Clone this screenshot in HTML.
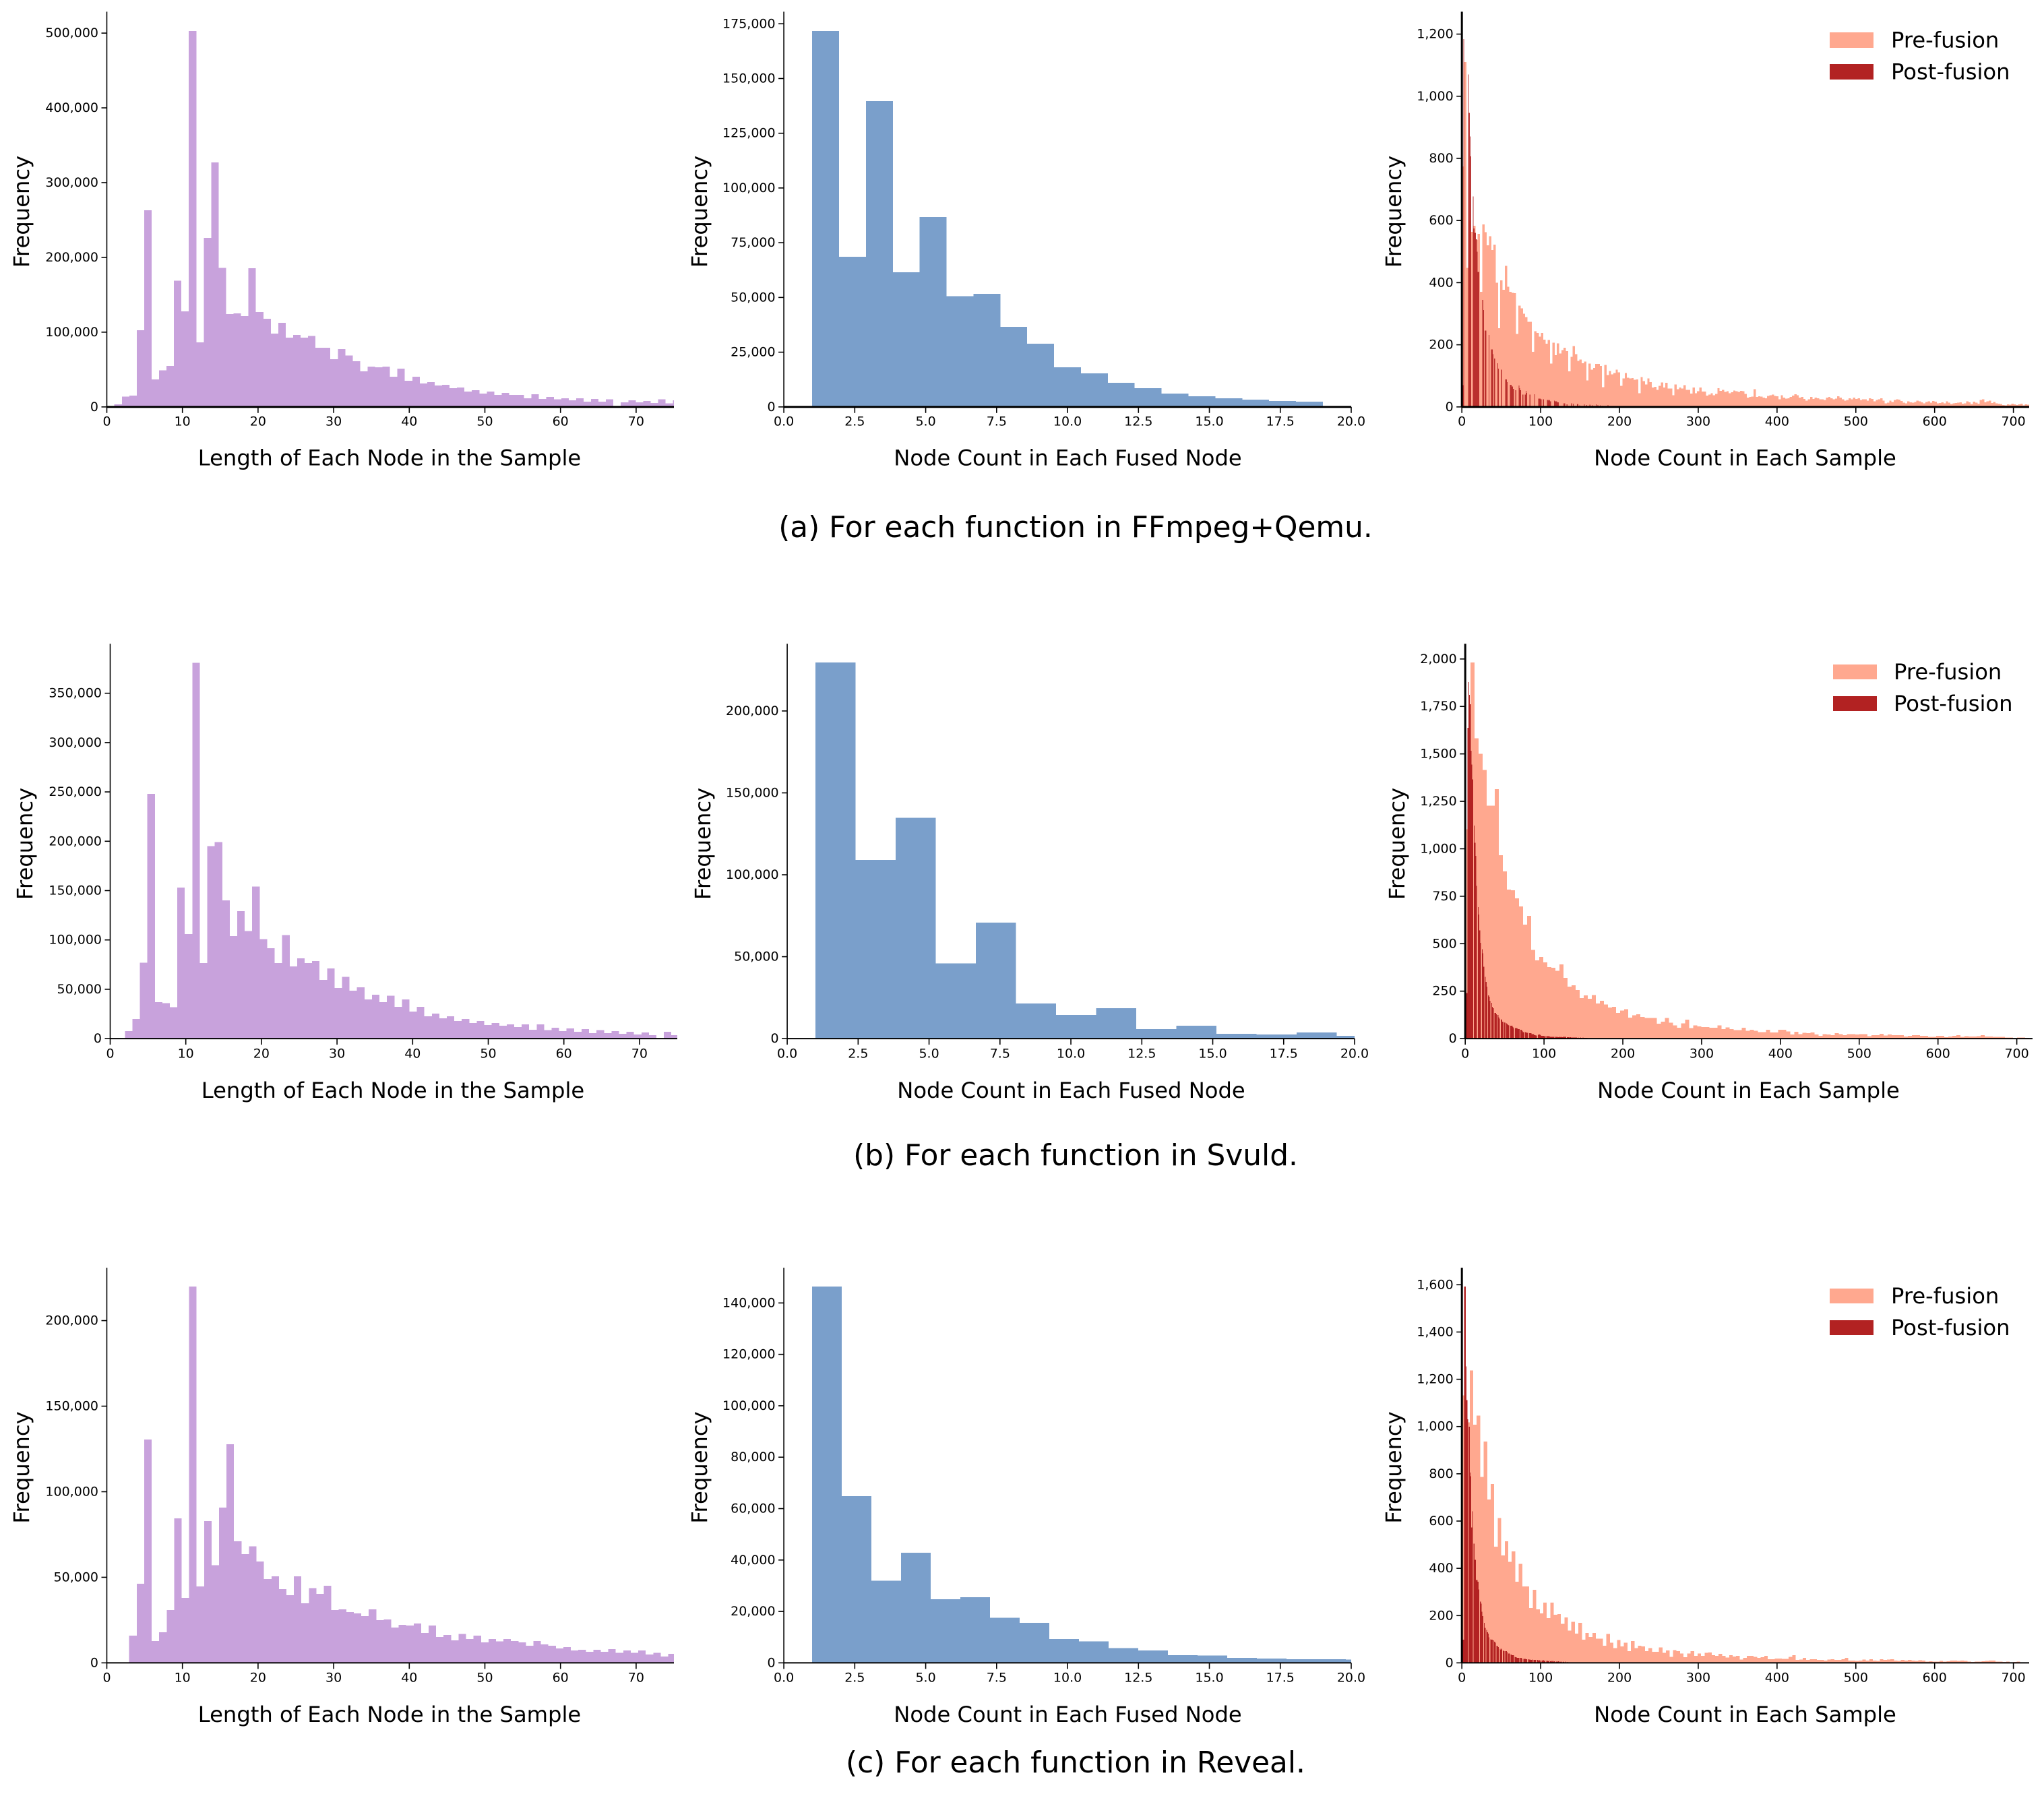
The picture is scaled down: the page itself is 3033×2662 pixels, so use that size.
<!DOCTYPE html>
<html lang="en">
<head>
<meta charset="utf-8">
<title>Node distribution histograms</title>
<style>
html,body{margin:0;padding:0;background:#fff;}
svg{display:block;}
text{font-family:"DejaVu Sans","Liberation Sans",sans-serif;fill:#000;}
</style>
</head>
<body>
<svg id="chart" xmlns="http://www.w3.org/2000/svg" width="3033" height="2662" viewBox="0 0 3033 2662">
<rect x="0" y="0" width="3033" height="2662" fill="#fff"/>
<text x="1596" y="782.5" font-size="43.8" text-anchor="middle" dominant-baseline="central">(a) For each function in FFmpeg+Qemu.</text>
<text x="1596" y="1714.5" font-size="43.8" text-anchor="middle" dominant-baseline="central">(b) For each function in Svuld.</text>
<text x="1596" y="2615.5" font-size="43.8" text-anchor="middle" dominant-baseline="central">(c) For each function in Reveal.</text>
</svg>
<script>
const lengthTicks = [0,10,20,30,40,50,60,70];
const fusedTicks = [0,2.5,5,7.5,10,12.5,15,17.5,20];
const sampleTicks = [0,100,200,300,400,500,600,700];

const aLengthYTicks = [0,100000,200000,300000,400000,500000];
const aFusedYTicks = [0,25000,50000,75000,100000,125000,150000,175000];
const aSampleYTicks = [0,200,400,600,800,1000,1200];
const bLengthYTicks = [0,50000,100000,150000,200000,250000,300000,350000];
const bFusedYTicks = [0,50000,100000,150000,200000];
const bSampleYTicks = [0,250,500,750,1000,1250,1500,1750,2000];
const cLengthYTicks = [0,50000,100000,150000,200000];
const cFusedYTicks = [0,20000,40000,60000,80000,100000,120000,140000];
const cSampleYTicks = [0,200,400,600,800,1000,1200,1400,1600];

const aLengthCounts = [3300,14000,15000,102600,263000,37000,49000,54600,169000,128000,503000,86500,226000,327000,186000,124000,125000,121700,185400,127000,118000,98000,112600,92700,96400,92700,95000,79000,79000,63700,77400,69000,61000,47600,53800,53000,53800,40600,51000,35000,40600,31500,33000,28600,29400,25000,26000,20700,22400,18000,20700,16000,18600,16000,16000,11600,17000,10800,13200,10000,11600,8700,11600,7000,10800,7000,10000,0,6200,8700,6200,7900,5400,10000,4600,8700];
const bLengthCounts = [7500,20000,77000,248000,37000,36000,31700,153000,106000,381000,76500,195000,199000,140000,104000,129000,109000,154000,100700,91600,76500,105000,73000,81500,76500,78700,59600,71000,51400,62400,48600,52000,39800,44500,37000,43300,32300,39800,27300,32300,22600,25400,20700,22600,17900,20000,15700,17900,13800,15700,12900,14400,11600,14400,9000,14400,8500,11000,7500,10400,6900,9700,5600,8500,5600,7500,5000,6900,4000,6300,3500,0,6900,3500];
const cLengthCounts = [15900,46300,130500,12800,17900,30900,84400,38000,219900,44700,82800,57000,90800,127800,71000,63600,68000,59300,49000,50600,43000,39600,50600,34900,43600,40300,45000,30900,31300,29700,28900,27300,31300,25000,25300,20600,22200,21900,23000,17500,21900,15200,16300,13200,16800,13900,15900,11900,13900,12500,13900,12800,11900,10000,12800,10800,10000,8500,9200,7200,7600,6500,7600,6500,8100,5800,7200,5800,7200,4900,5800,3800,5200];

const aFusedCounts = [171700,68600,139700,61500,86800,50500,51600,36600,28800,18100,15400,11000,8600,6100,4800,4000,3400,2700,2400];
const bFusedCounts = [229600,109000,134700,46000,70800,21500,14500,18500,5900,7900,3000,2500,3800,1700];
const cFusedCounts = [146400,64900,31900,42900,24800,25500,17500,15600,9300,8300,5700,4800,3000,2800,1900,1700,1400,1400,1300,1000];

const aPreCounts = [774,1110,447,600,564,583,538,557,370,587,562,520,549,505,522,400,253,407,377,454,387,370,367,366,235,326,317,300,289,274,274,177,244,238,226,238,217,203,215,140,207,167,205,172,183,190,180,114,161,196,170,148,152,141,146,85,140,120,125,138,138,132,64,135,103,116,105,109,120,111,68,92,109,94,92,93,87,88,44,96,83,72,92,80,62,65,55,68,79,62,78,59,59,38,72,57,62,59,70,55,55,43,62,44,51,62,49,49,36,40,44,38,42,60,52,55,48,50,44,47,53,50,48,52,50,42,30,32,33,57,32,34,33,30,28,35,38,40,35,34,25,38,30,27,28,32,36,41,38,30,32,26,20,24,32,26,30,28,25,24,22,30,32,28,24,27,34,30,25,20,22,28,24,30,26,28,22,24,25,20,28,26,18,22,24,28,20,12,14,20,16,22,24,23,19,14,12,18,15,14,16,20,18,15,12,16,18,14,19,17,11,13,15,12,18,14,9,12,13,14,15,10,11,18,15,9,17,14,10,22,24,15,18,20,13,16,12,10,9,6,5,8,7,10,8,6,8,10,5,8,7];
const aPostCounts = [0,70,1184,0,0,0,0,0,1070,946,871,806,0,0,677,574,560,560,540,500,435,435,0,0,0,0,344,312,0,246,246,0,0,0,232,0,0,185,185,170,0,156,0,0,0,141,123,0,0,0,120,0,0,0,0,88,88,80,0,0,0,71,71,66,66,58,0,0,54,0,0,0,69,60,54,0,0,40,0,0,40,52,45,0,0,0,40,0,0,0,0,0,41,0,0,0,0,27,27,27,25,0,0,25,0,0,0,0,22,22,20,22,18,0,0,0,0,20,18,18,18,15,15,0,0,0,0,0,11,0,11,0,0,8,0,0,0,0,0,12,0,10,0,0,0,0,9,9,0,5,0,0,0,0,0,8,0,0,6,0,0,0,7,0,0,5,0,0,0,0,8,0,6,0,0,5,0,0,4,0,0,0,0,0,0,6,0,0,0,0,3];

const bPreCounts = [1103,1982,1583,1500,1416,1228,1228,1314,966,881,785,781,739,696,601,646,468,412,430,402,377,373,357,391,320,274,281,256,214,227,210,230,185,199,180,164,167,135,148,155,110,123,129,114,108,108,108,78,90,108,83,70,57,80,100,55,70,65,60,60,57,57,70,50,59,50,44,44,57,41,47,42,34,34,46,33,33,46,46,37,21,36,24,31,29,33,21,15,24,21,18,28,24,18,24,24,21,24,24,13,18,18,26,16,21,18,18,18,11,15,18,18,15,15,10,10,15,15,8,11,15,18,10,12,11,11,13,18,11,11,10,10,10,6,6,3,5,6,4,3];
const bPostCounts = [0,240,240,1638,1878,1812,1762,1516,1443,1366,0,1122,1031,962,804,0,693,653,571,505,0,470,450,378,0,325,299,273,0,227,220,200,0,188,168,161,0,135,135,129,0,125,112,105,0,102,100,89,0,85,83,0,80,76,72,70,0,68,67,67,60,56,0,56,56,56,52,50,50,0,46,46,40,34,34,0,34,32,30,30,0,28,28,28,24,24,24,20,18,17,17,0,19,21,21,18,14,14,14,14,13,13,0,13,13,13,12,10,10,10,10,10,10,0,10,10,8,9,8,10,9,8,9,7,10,10,10,9,0,8,7,8,6,7,6,5,6,6,6,6,6,5,4,5,0,4,5,4,3,5,4,4,4,4,4,3,0,3,2,3,2,3,0,2,3,2,2,0,2,0,2,0,0,2,0,0,2];

const cPreCounts = [1132,1018,1238,1008,1047,787,936,691,757,492,613,454,514,427,471,343,419,323,323,232,309,226,209,255,190,255,204,207,165,192,137,173,124,170,98,126,109,127,102,102,72,122,85,63,96,69,85,50,93,63,73,69,50,63,47,47,65,43,52,26,54,50,40,24,40,50,30,40,30,42,44,33,30,38,30,22,33,27,30,14,21,30,29,26,21,24,30,16,15,18,18,17,17,25,33,12,14,21,12,16,16,13,13,10,14,16,13,13,15,21,10,10,8,9,14,10,16,9,8,15,12,14,16,9,8,13,10,13,9,8,11,10,5,7,5,6,8,5,7,10,10,8,10,8,5,4,6,5,7,8,10,9,6,5,4,5,3,4,5,3,2];
const cPostCounts = [0,98,98,1592,1592,1254,1112,1031,0,999,805,789,573,642,0,504,436,436,351,351,344,311,0,259,250,216,198,0,170,148,0,140,130,124,108,0,100,98,98,0,95,90,85,0,72,70,67,0,60,56,59,0,52,50,0,50,50,45,0,40,40,0,36,33,33,33,0,26,24,22,21,21,21,0,21,21,18,0,17,17,17,16,16,0,15,14,14,13,13,14,0,13,13,12,0,13,12,10,11,10,0,10,9,11,8,10,0,8,9,7,10,0,7,8,6,8,5,7,0,6,5,5,7,0,5,4,5,0,5,4,0,5,3,0,4,3,0,3,2,0,3,0,2,0,3,0,2];

const rows = [
  {top:17.4, base:603.8, tickY:625.3, labelY:679.5, midY:314, axisW:3, shift:0},
  {top:955.3, base:1541.1, tickY:1563.6, labelY:1617.8, midY:1252, axisW:2, shift:5},
  {top:1881.1, base:2467.4, tickY:2489.5, labelY:2544, midY:2177.5, axisW:2, shift:0}
];
const columns = [
  {left:158.5, right:1000, yTitleX:32, xTitleX:578, spineW:1.6, xTitle:'Length of Each Node in the Sample', xMax:75, xTicks:lengthTicks, decimals:0, fill:'#c8a2dc', key:'length'},
  {left:1163.1, right:2005, yTitleX:1038, xTitleX:1584.5, spineW:1.6, xTitle:'Node Count in Each Fused Node', xMax:20, xTicks:fusedTicks, decimals:1, fill:'#7a9fcb', key:'fused'},
  {left:2169.2, right:3011, yTitleX:2068, xTitleX:2589.5, spineW:3, xTitle:'Node Count in Each Sample', xMax:720, xTicks:sampleTicks, decimals:0, fill:'#ffa88f', key:'sample'}
];
const panels = [
  {id:'a-length', r:0, c:0, yMax:528600, yTicks:aLengthYTicks, series:[{name:'length',counts:aLengthCounts,start:1,width:0.985,fill:'#c8a2dc',opacity:1}]},
  {id:'a-fused', r:0, c:1, yMax:180500, yTicks:aFusedYTicks, series:[{name:'fused',counts:aFusedCounts,start:1,width:18/19,fill:'#7a9fcb',opacity:1}]},
  {id:'a-sample', r:0, c:2, yMax:1272, yTicks:aSampleYTicks, legend:{px:2715,tx:2806,y1:48,y2:95,h:23}, series:[{name:'pre-fusion',counts:aPreCounts,start:0,width:2.87,fill:'#ffa88f',opacity:1},{name:'post-fusion',counts:aPostCounts,start:0,width:1,fill:'#b22222',opacity:0.9}]},
  {id:'b-length', r:1, c:0, yMax:400100, yTicks:bLengthYTicks, series:[{name:'length',counts:bLengthCounts,start:1.95,width:0.99,fill:'#c8a2dc',opacity:1}]},
  {id:'b-fused', r:1, c:1, yMax:241000, yTicks:bFusedYTicks, series:[{name:'fused',counts:bFusedCounts,start:1,width:1.413,fill:'#7a9fcb',opacity:1}]},
  {id:'b-sample', r:1, c:2, yMax:2080, yTicks:bSampleYTicks, legend:{px:2720,tx:2810,y1:986,y2:1033,h:22}, series:[{name:'pre-fusion',counts:bPreCounts,start:1.4,width:5.14,fill:'#ffa88f',opacity:1},{name:'post-fusion',counts:bPostCounts,start:0,width:1,fill:'#b22222',opacity:1}]},
  {id:'c-length', r:2, c:0, yMax:230900, yTicks:cLengthYTicks, series:[{name:'length',counts:cLengthCounts,start:2.96,width:0.99,fill:'#c8a2dc',opacity:1}]},
  {id:'c-fused', r:2, c:1, yMax:153700, yTicks:cFusedYTicks, series:[{name:'fused',counts:cFusedCounts,start:1,width:1.045,fill:'#7a9fcb',opacity:1}]},
  {id:'c-sample', r:2, c:2, yMax:1672, yTicks:cSampleYTicks, legend:{px:2715,tx:2806,y1:1912,y2:1959,h:22}, series:[{name:'pre-fusion',counts:cPreCounts,start:1,width:4.45,fill:'#ffa88f',opacity:1},{name:'post-fusion',counts:cPostCounts,start:0,width:1,fill:'#b22222',opacity:1}]}
];

const svg = document.getElementById('chart');
const NS = 'http://www.w3.org/2000/svg';
function mk(parent, tag, attrs, txt) {
  const node = document.createElementNS(NS, tag);
  for (const k in attrs) node.setAttribute(k, attrs[k]);
  if (txt !== undefined) node.textContent = txt;
  parent.appendChild(node);
  return node;
}
panels.forEach(function (p) {
  const row = rows[p.r];
  const col = columns[p.c];
  const left = col.left + row.shift;
  const right = col.right + row.shift;
  const xScale = function (v) { return left + (v / col.xMax) * (right - left); };
  const yScale = function (v) { return row.base - (v / p.yMax) * (row.base - row.top); };

  const group = mk(svg, 'g', {});
  
  

  p.series.forEach(function (s) {
    s.counts.forEach(function (count, i) {
      const x0 = s.start + i * s.width;
      if (x0 >= col.xMax || count <= 0) return;
      const x1 = Math.min(col.xMax, x0 + s.width);
      const bar = mk(group, 'rect', {
        x: xScale(x0), y: yScale(count),
        width: xScale(x1) - xScale(x0), height: row.base - yScale(count),
        fill: s.fill, 'fill-opacity': s.opacity, 'shape-rendering': 'crispEdges'
      });
      
      
    });
  });

  const leftSpine = mk(group, 'line', {x1:left, x2:left, y1:row.top, y2:row.base, stroke:'#000', 'stroke-width':col.spineW});
  
  
  const bottomSpine = mk(group, 'line', {x1:left, x2:right, y1:row.base, y2:row.base, stroke:'#000', 'stroke-width':row.axisW});
  
  

  col.xTicks.forEach(function (t) {
    const mark = mk(group, 'line', {x1:xScale(t), x2:xScale(t), y1:row.base, y2:row.base + 9, stroke:'#000', 'stroke-width':1.6});
    
    
    const lab = mk(group, 'text', {x:xScale(t), y:row.tickY, 'font-size':19, 'text-anchor':'middle', 'dominant-baseline':'central'}, t.toFixed(col.decimals));
    
    
  });
  p.yTicks.forEach(function (t) {
    const mark = mk(group, 'line', {x1:left - 8, x2:left, y1:yScale(t), y2:yScale(t), stroke:'#000', 'stroke-width':1.6});
    
    
    const lab = mk(group, 'text', {x:left - 12.5, y:yScale(t), 'font-size':19, 'text-anchor':'end', 'dominant-baseline':'central'}, t.toLocaleString('en-US'));
    
    
  });

  const xTitle = mk(group, 'text', {x:col.xTitleX + row.shift, y:row.labelY, 'font-size':32.2, 'text-anchor':'middle', 'dominant-baseline':'central'}, col.xTitle);
  
  
  const yx = col.yTitleX + row.shift;
  const yTitle = mk(group, 'text', {x:yx, y:row.midY, 'font-size':32.2, 'text-anchor':'middle', 'dominant-baseline':'central', transform:'rotate(-90 ' + yx + ' ' + row.midY + ')'}, 'Frequency');
  
  

  if (p.legend) {
    const L = p.legend;
    const preSwatch = mk(group, 'rect', {x:L.px, y:L.y1, width:65, height:L.h, fill:'#ffa88f'});
    
    
    const preText = mk(group, 'text', {x:L.tx, y:L.y1 + L.h / 2, 'font-size':32.2, 'dominant-baseline':'central'}, 'Pre-fusion');
    
    
    const postSwatch = mk(group, 'rect', {x:L.px, y:L.y2, width:65, height:L.h, fill:'#b22222'});
    
    
    const postText = mk(group, 'text', {x:L.tx, y:L.y2 + L.h / 2, 'font-size':32.2, 'dominant-baseline':'central'}, 'Post-fusion');
    
    
  }
});
</script>
</body>
</html>
